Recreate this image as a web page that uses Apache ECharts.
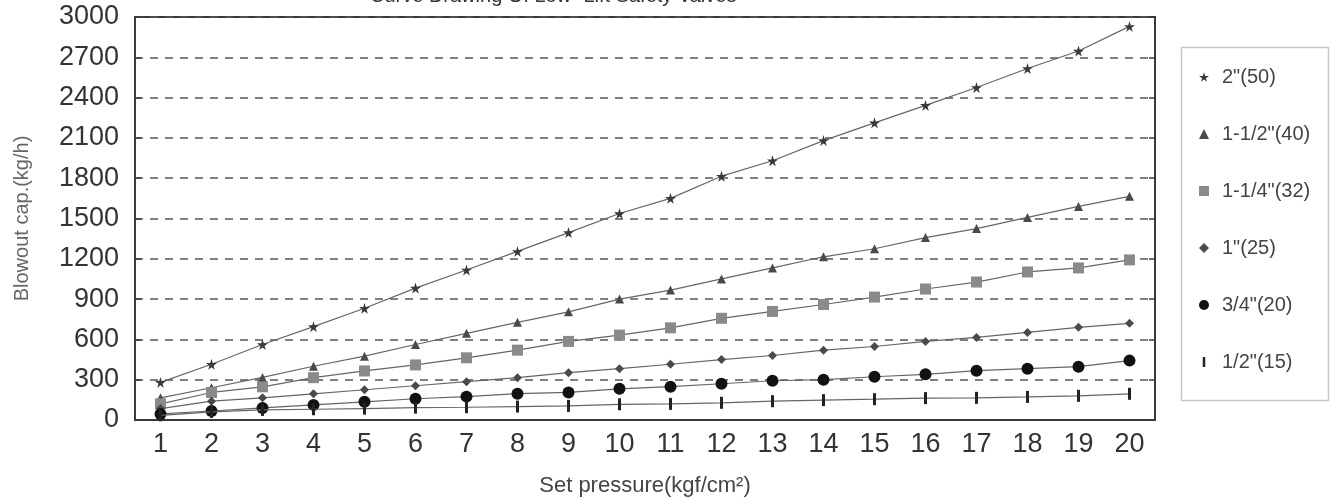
<!DOCTYPE html>
<html>
<head>
<meta charset="utf-8">
<script src="https://cdn.jsdelivr.net/npm/echarts@6/dist/echarts.min.js"></script>
<style>html,body{margin:0;padding:0;background:#fff;}#c{width:1333px;height:498px;}</style>
</head>
<body>
<div id="c"></div>
<script>
var pressures = ['1','2','3','4','5','6','7','8','9','10','11','12','13','14','15','16','17','18','19','20'];
var yTicks = [0,300,600,900,1200,1500,1800,2100,2400,2700,3000];
var seriesNames = ['2"(50)', '1-1/2"(40)', '1-1/4"(32)', '1"(25)', '3/4"(20)', '1/2"(15)'];
var v50 = [280, 415, 562, 695, 832, 982, 1117, 1255, 1395, 1537, 1650, 1815, 1930, 2080, 2212, 2342, 2475, 2617, 2747, 2930];
var v40 = [165, 240, 317, 400, 475, 562, 645, 727, 805, 900, 967, 1050, 1132, 1215, 1275, 1358, 1425, 1508, 1590, 1665];
var v32 = [120, 205, 247, 315, 365, 410, 463, 520, 585, 632, 686, 757, 808, 860, 915, 975, 1027, 1102, 1132, 1192];
var v25 = [85, 140, 165, 195, 225, 255, 285, 315, 352, 382, 415, 450, 480, 520, 547, 585, 615, 652, 690, 720];
var v20 = [45, 67, 90, 112, 135, 158, 174, 196, 205, 232, 248, 270, 292, 300, 322, 340, 367, 382, 397, 442];
var v15 = [35, 60, 75, 80, 85, 92, 95, 100, 105, 117, 120, 128, 140, 148, 155, 163, 165, 172, 180, 195];

var FONT = '"Liberation Sans", Arial, sans-serif';
var STAR = 'path://M50,0 L61,35 L98,35 L68,57 L79,91 L50,70 L21,91 L32,57 L2,35 L39,35 Z';
var BAR = 'path://M0,0 L3,0 L3,12 L0,12 Z';
var symbols = [STAR, 'triangle', 'rect', 'diamond', 'circle', 'rect'];
var legendIcons = [STAR, 'triangle', 'rect', 'diamond', 'circle', BAR];
var sizes = [11, 9, 11, 9, 12, [3, 12]];
var colors = ['#3a3a3a', '#4a4a4a', '#8a8a8a', '#4a4a4a', '#111111', '#222222'];
var values = [v50, v40, v32, v25, v20, v15];

var series = seriesNames.map(function (n, i) {
  return {
    name: n,
    type: 'line',
    data: values[i],
    symbol: symbols[i],
    symbolSize: sizes[i],
    color: colors[i],
    itemStyle: { color: colors[i] },
    lineStyle: { color: '#666', width: 1.2 },
    z: 3 + i
  };
});

var chart = echarts.init(document.getElementById('c'));
chart.setOption({
  animation: false,
  backgroundColor: '#fff',
  title: {
    text: 'Curve Drawing Of Low -Lift Safety Valves',
    left: 365, top: -19,
    textStyle: { fontFamily: FONT, fontSize: 20, fontWeight: 'normal', color: '#333' }
  },
  grid: { left: 135, right: 178, top: 17, bottom: 78, outerBoundsMode: 'none', containLabel: false, show: true, borderColor: '#3a3a3a', borderWidth: 2, backgroundColor: 'transparent' },
  legend: {
    orient: 'vertical',
    left: 1181, top: 47,
    padding: [20, 4, 0, 18],
    itemWidth: 10, itemHeight: 10,
    itemGap: 37,
    data: seriesNames.map(function (n, i) { return { name: n, icon: legendIcons[i] }; }),
    textStyle: { fontFamily: FONT, fontSize: 20, color: '#444', lineHeight: 19, padding: [0, 0, 0, 8] }
  },
  graphic: [{
    type: 'rect', left: 1179, top: 45,
    shape: { width: 147, height: 353 },
    style: { fill: 'none', stroke: '#c8c8c8', lineWidth: 1.5 }
  }],
  xAxis: {
    type: 'category',
    data: pressures,
    boundaryGap: true,
    name: 'Set pressure(kgf/cm\u00B2)',
    nameLocation: 'middle',
    nameGap: 55,
    nameTextStyle: { fontFamily: FONT, fontSize: 22, color: '#444' },
    axisLine: { lineStyle: { color: '#3a3a3a', width: 2 } },
    axisTick: { show: false },
    axisLabel: { fontFamily: FONT, fontSize: 27, color: '#333', margin: 11 },
    splitLine: { show: false }
  },
  yAxis: [{
    type: 'value',
    min: yTicks[0], max: yTicks[yTicks.length - 1], interval: 300,
    name: 'Blowout cap.(kg/h)',
    nameLocation: 'middle',
    nameGap: 103,
    nameTextStyle: { fontFamily: FONT, fontSize: 20, color: '#666' },
    axisLine: { show: true, lineStyle: { color: '#3a3a3a', width: 2 } },
    axisTick: { show: true, inside: true, length: 6, lineStyle: { color: '#3a3a3a', width: 1.5 } },
    axisLabel: { fontFamily: FONT, fontSize: 27, color: '#333', margin: 16, padding: [7, 0, 0, 0], formatter: function (v) { return String(v); } },
    splitLine: { show: true, lineStyle: { color: '#555', type: [8, 7], width: 1.5 } }
  }, {
    type: 'value', position: 'right',
    min: yTicks[0], max: yTicks[yTicks.length - 1], interval: 300,
    axisLine: { show: true, lineStyle: { color: '#3a3a3a', width: 2 } },
    axisTick: { show: true, inside: true, length: 6, lineStyle: { color: '#3a3a3a', width: 1.5 } },
    axisLabel: { show: false },
    splitLine: { show: false }
  }],
  series: series
});
</script>
</body>
</html>
